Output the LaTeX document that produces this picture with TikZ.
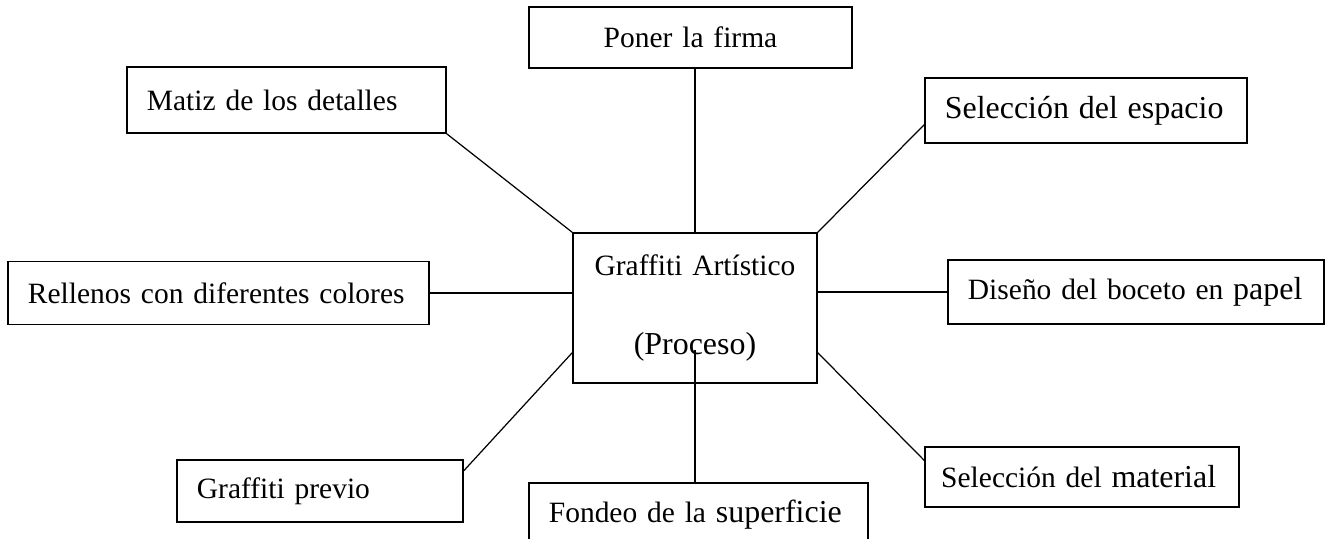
\documentclass[tikz,border=0pt]{standalone}
\usepackage{fontspec}
\setmainfont{Liberation Serif}
\usetikzlibrary{calc}
\newcommand{\grande}[1]{{\fontsize{13}{15}\selectfont #1}}

\begin{document}
\begin{tikzpicture}[
  x=0.407pt, y=-0.407pt,
  box/.style={draw, line width=0.6pt, inner xsep=8.1pt, align=left, font=\fontsize{12}{14.5}\selectfont},
  lin/.style={line width=0.5pt}
]
\useasboundingbox (0,0) rectangle (1326,539);
\node[box, text width=83.1pt, minimum height=61pt, align=center] (proceso) at (695,308) {Graffiti Artístico\\[18pt]\grande{(Proceso)}};
\node[box, text width=115.3pt, minimum height=24.8pt, align=center] (firma) at (690.5,37.5) {Poner la firma};
\node[box, text width=113.6pt, minimum height=26.9pt] (matiz) at (286.5,100) {Matiz de los detalles};
\node[box, text width=114.9pt, minimum height=26.5pt] (espacio) at (1086,110.5) {\grande{Selección del espacio}};
\node[box, text width=155.1pt, minimum height=25.6pt] (rellenos) at (218.5,293) {Rellenos con diferentes colores};
\node[box, text width=136.8pt, minimum height=26pt] (diseno) at (1136,292) {Diseño del boceto en \grande{papel}};
\node[box, text width=100.2pt, minimum height=25.2pt] (previo) at (320,491) {Graffiti previo};
\node[box, text width=114.6pt, inner xsep=6.6pt, minimum height=24.4pt] (material) at (1082,477) {Selección del \grande{material}};
\node[box, text width=121.8pt, minimum height=26pt] (fondeo) at (698.5,515) {Fondeo de la \grande{superficie}};

\draw[lin] (proceso.north) -- (proceso.north |- firma.south);
\draw[lin] (matiz.south east) -- (proceso.north west);
\draw[lin] (espacio.185) -- (proceso.north east);
\draw[lin] (rellenos.east) -- (rellenos.east -| proceso.west);
\draw[lin] (diseno.west) -- (diseno.west -| proceso.east);
\draw[lin] (previo.8) -- (proceso.200);
\draw[lin] (material.174) -- (proceso.-20);
\draw[lin] ($(proceso.center)+(0,42)$) -- (proceso.center |- fondeo.north);
\end{tikzpicture}
\end{document}
